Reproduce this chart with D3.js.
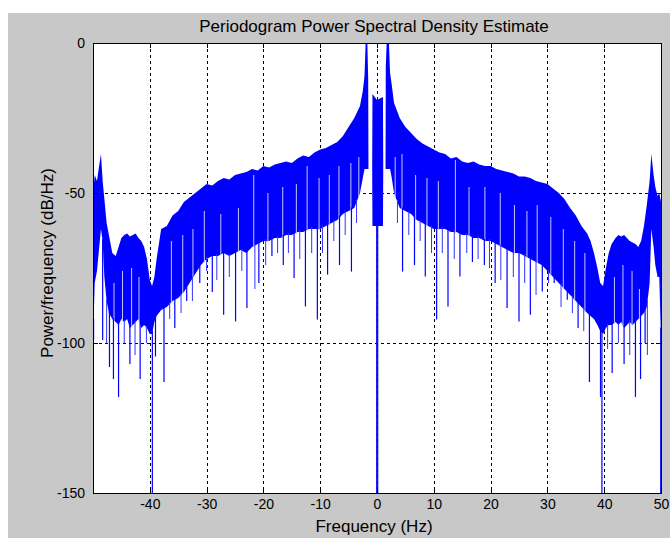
<!DOCTYPE html>
<meta charset="utf-8">
<script src="https://d3js.org/d3.v7.min.js"></script>
<style>
	body{
		margin:0;
		background:#fff;
	}
	svg text{
		font-family: 'Liberation Sans', Arial, sans-serif;
	}
</style>
<div id="chart"></div>
<script>

// band of the spectrum: frequency (Hz), upper edge and lower edge of the dense part (dB/Hz)
var bandFreq = [-50,-49.7,-49.3,-49,-48.6,-48.3,-48,-47.6,-47.2,-46.6,-46,-45.5,-45,-44.5,-44,-43.5,-43,-42.5,-42,-41.5,-41,-40.5,-40,-39.6,-39.2,-38.8,-38.4,-38,
	-37,-36,-35,-34,-33,-32,-31,-30,-29,-28,-27,-26,-25,-24,-23,-22,-21,-20,-19,-18,-17,-16,-15,-14,-13,-12,-11,-10,-9,-8,-7,-6,-5,
	-4,-3,-2.5,-2.2,-2,-1.7,-1.55,-1.5,-0.85,-0.8,0,1.05,1.1,1.5,1.55,1.7,2.1,2.3,2.6,3,4,
	5,6,7,8,9,10,11,12,13,14,15,16,17,18,19,20,21,22,23,24,25,26,27,28,29,30,31,32,33,34,35,36,37,
	37.6,38.2,38.8,39.3,39.8,40.3,40.8,41.3,42,42.5,43,43.5,44,44.5,45,45.5,46,46.5,47,47.5,48,48.3,48.7,49,49.4,49.7,50]
var bandTop = [-51,-44,-46,-42,-37,-46,-52,-60,-64,-70,-71,-68,-65,-64,-63.5,-64.5,-64,-63.5,-65,-66,-68,-72,-79,-81,-78,-72,-67,-62,
	-61,-57.5,-56,-53,-51.5,-50,-48.5,-47,-47.5,-46,-45,-45.5,-44,-43.5,-43,-42,-42.5,-41,-41.5,-40.5,-40,-39.5,-40,-38.5,-37.5,-38,-36.5,-35.5,-35,-34,-33,-31,-28,
	-25,-21,-16,-11,0,0,-12,-42,-42,-17,-19,-18,-42,-42,-8,0,0,-10,-14,-20,-25,
	-28,-30,-32,-33.5,-34.5,-35.5,-36.5,-37,-38.5,-38,-39.5,-40,-39.5,-40.5,-41,-41,-42,-42.5,-43,-43.5,-44.5,-44.5,-45,-46,-46.5,-47,-48.5,-50,-52,-55,-57.5,-61,-63.5,
	-66,-70,-75,-80,-81,-75,-70,-67,-65,-64,-64.5,-64,-65,-66,-66.5,-67,-68,-66,-61,-54,-46,-37,-44,-48,-51,-50,-53]
var bandBot = [-99,-80,-76,-70,-62,-66,-78,-86,-90,-92,-93,-94,-92,-93,-92,-95,-94,-93,-92,-95,-94,-95,-97,-97,-93,-91,-90,-89,
	-88,-86,-85,-83,-80,-77,-74,-72,-71,-71,-70,-71,-70,-69,-70,-68,-67,-66,-66,-65,-65,-64,-64,-63,-63,-62,-62,-62,-61,-60,-59,-57,-56,
	-55,-50,-45,-42,-42,-42,-42,-42,-42,-61,-61,-61,-42,-42,-42,-42,-42,-42,-45,-50,-55,
	-56,-57,-59,-60,-61,-62,-62,-62,-63,-63,-64,-64,-65,-65,-66,-66,-67,-68,-69,-70,-70,-71,-72,-73,-74,-76,-78,-80,-82,-84,-86,-88,-90,
	-91,-92,-94,-96,-97,-95,-94,-94,-93,-94,-93,-95,-94,-93,-94,-93,-92,-91,-90,-88,-80,-62,-68,-74,-78,-78,-99]

// deep single dips below the band: frequency (Hz) and value (dB/Hz)
var spikeFreq = [-49.9,-48.3,-47.1,-46.4,-45.5,-43.5,-41.7,-39.55,-39,-37.5,-35.6,-33.5,-31.2,-29,-27,-24.9,-22.9,-20.8,-18.5,-16.5,-14.6,-12.6,-10.5,-8.7,-6.6,-4.5,-0.05,0.12,4.5,6.6,8.5,10.5,12.5,14.6,16.8,18.9,20.8,22.9,25,27,29.1,31.2,33.5,35.4,37.4,39.35,39.6,41.4,43.5,45.5,46.4,47.2,49.95]
var spikeDb = [-99,-99,-108,-112,-118,-107,-112,-150,-104.5,-113,-95,-86,-80,-83,-90.6,-92.8,-88.3,-80,-71,-74,-78.3,-87.8,-92.2,-77.2,-74,-76.2,-150,-150,-76.2,-74,-77.8,-92.2,-87.8,-77.8,-73,-74,-80,-88.3,-92.8,-90.6,-82.8,-80,-85.6,-95,-113,-118,-150,-110,-107,-118,-112,-100,-150]

// shorter dips that roughen the lower edge
var minorFreq = [-47.6,-44.5,-42.6,-40.6,-36.5,-34.5,-32.5,-30,-28.2,-26,-23.8,-21.5,-19.6,-17.5,-15.6,-13.6,-11.5,-9.6,-7.6,-5.6,-3.6,
	3.6,5.6,7.6,9.6,11.5,13.6,15.8,17.8,19.8,21.8,24,26,28,30.2,32.4,34.4,36.4,40.6,42.5,44.5,47.6]
var minorDb = [-100,-100,-104,-100,-92,-90,-86,-76,-79,-78,-76,-82,-74,-70,-70,-72,-70,-70,-66,-64,-60,
	-60,-64,-66,-70,-70,-72,-70,-72,-75,-79,-78,-80,-84,-80,-88,-90,-96,-102,-100,-104,-104]

// white gaps inside the band: frequency (Hz) and where the gap starts (dB/Hz)
var gapFreq = [-46.3,-44.8,-43.2,-41.9,-36.2,-34.2,-32.4,-30.4,-27.5,-24.4,-21.7,-19.2,-16.6,-14.2,-12.3,-10.2,-8.4,-6.7,-4.6,-3.2,
	3.2,4.4,6.8,8.8,10.8,13.8,16.2,19,21.7,24.2,26.4,28.2,30.6,32.8,34.8,36.6,41.8,43.3,44.9,46.2]
var gapTop = [-80,-76,-75,-78,-66,-64,-62,-56,-57,-55,-44,-50,-48,-47,-41,-45,-44,-41,-40,-38,
	-38,-37,-44,-45,-46,-39,-48,-48,-50,-54,-56,-54,-58,-62,-66,-70,-78,-74,-76,-82]

// ticks
var xTicks = [-40,-30,-20,-10,0,10,20,30,40,50]
var yTicks = [0,-50,-100,-150]

var w = 670
var h = 538
var pLeft = 93, pRight = 661, pTop = 43, pBottom = 493

var svg = d3.select("#chart").append("svg").attr("width",w).attr("height",h)

// figure background
svg.append("rect").attr("x",8).attr("y",13).attr("width",w-8).attr("height",h-13).attr("fill","#c8c8c8")
svg.append("rect").attr("x",pLeft).attr("y",pTop).attr("width",pRight-pLeft).attr("height",pBottom-pTop).attr("fill","#fff")

var x = d3.scaleLinear().domain([-50,50]).range([pLeft,pRight])
var y = d3.scaleLinear().domain([-150,0]).range([pBottom,pTop])

// grid
var grid = svg.append("g").attr("stroke","#000").attr("stroke-dasharray","3,3").attr("shape-rendering","crispEdges")
grid.selectAll(".vgrid").data(xTicks.filter(function(d){return d<50})).enter().append("line")
	.attr("x1",function(d){return Math.round(x(d))+0.5}).attr("x2",function(d){return Math.round(x(d))+0.5})
	.attr("y1",pTop).attr("y2",pBottom)
grid.selectAll(".hgrid").data(yTicks.filter(function(d){return d>-150 && d<0})).enter().append("line")
	.attr("y1",function(d){return Math.round(y(d))+0.5}).attr("y2",function(d){return Math.round(y(d))+0.5})
	.attr("x1",pLeft).attr("x2",pRight)

var bandData = bandFreq.map(function(f,i){return {f:f,top:bandTop[i],bot:bandBot[i]}})
var botAt = d3.scaleLinear().domain(bandFreq).range(bandBot)

var plot = svg.append("g")

plot.append("path").datum(bandData)
	.attr("fill","#0000ff")
	.attr("d",d3.area()
		.x(function(d){return x(d.f)})
		.y0(function(d){return y(d.bot)})
		.y1(function(d){return y(d.top)}))

// white gaps first, then the blue dips below the band
plot.selectAll(".gap").data(gapFreq).enter().append("line")
	.attr("class","gap")
	.attr("x1",function(d){return x(d)}).attr("x2",function(d){return x(d)})
	.attr("y1",function(d,i){return y(gapTop[i])})
	.attr("y2",function(d){return y(botAt(d))+1})
	.attr("stroke","#c4c4ff")
	.attr("stroke-width",1)

plot.selectAll(".minor").data(minorFreq).enter().append("line")
	.attr("class","minor")
	.attr("x1",function(d){return x(d)}).attr("x2",function(d){return x(d)})
	.attr("y1",function(d){return y(botAt(d))-2})
	.attr("y2",function(d,i){return y(minorDb[i])})
	.attr("stroke","#3333ff")
	.attr("stroke-width",1)

plot.selectAll(".spike").data(spikeFreq).enter().append("line")
	.attr("class","spike")
	.attr("x1",function(d){return x(d)}).attr("x2",function(d){return x(d)})
	.attr("y1",function(d){return y(botAt(d))-2})
	.attr("y2",function(d,i){return y(spikeDb[i])})
	.attr("stroke","#0000ff")
	.attr("stroke-width",1.2)

// axes, ticks pointing inward
var fontFam = "'Liberation Sans', Arial, sans-serif"
var fmt = function(d){return String(d)}
var xAxis = svg.append("g").attr("transform","translate(0,"+pBottom+")")
	.call(d3.axisBottom(x).tickValues(xTicks).tickFormat(fmt).tickSizeInner(-5).tickSizeOuter(0).tickPadding(6))
var yAxis = svg.append("g").attr("transform","translate("+pLeft+",0)")
	.call(d3.axisLeft(y).tickValues(yTicks).tickFormat(fmt).tickSizeInner(-5).tickSizeOuter(0).tickPadding(8))
var xTop = svg.append("g").attr("transform","translate(0,"+pTop+")")
	.call(d3.axisTop(x).tickValues(xTicks).tickSizeInner(-5).tickSizeOuter(0).tickFormat(""))
var yRight = svg.append("g").attr("transform","translate("+pRight+",0)")
	.call(d3.axisRight(y).tickValues(yTicks).tickSizeInner(-5).tickSizeOuter(0).tickFormat(""))

svg.selectAll(".domain, .tick line").attr("stroke","#000").attr("shape-rendering","crispEdges")
svg.selectAll(".tick text").attr("font-family",fontFam).attr("font-size","14px").attr("fill","#000")

// titles
svg.append("text").attr("x",374).attr("y",32).attr("text-anchor","middle")
	.attr("font-size","17px").text("Periodogram Power Spectral Density Estimate")
svg.append("text").attr("x",374).attr("y",532).attr("text-anchor","middle")
	.attr("font-size","17px").text("Frequency (Hz)")
svg.append("text").attr("transform","translate(53,263) rotate(-90)").attr("text-anchor","middle")
	.attr("font-size","17px").text("Power/frequency (dB/Hz)")

</script>
